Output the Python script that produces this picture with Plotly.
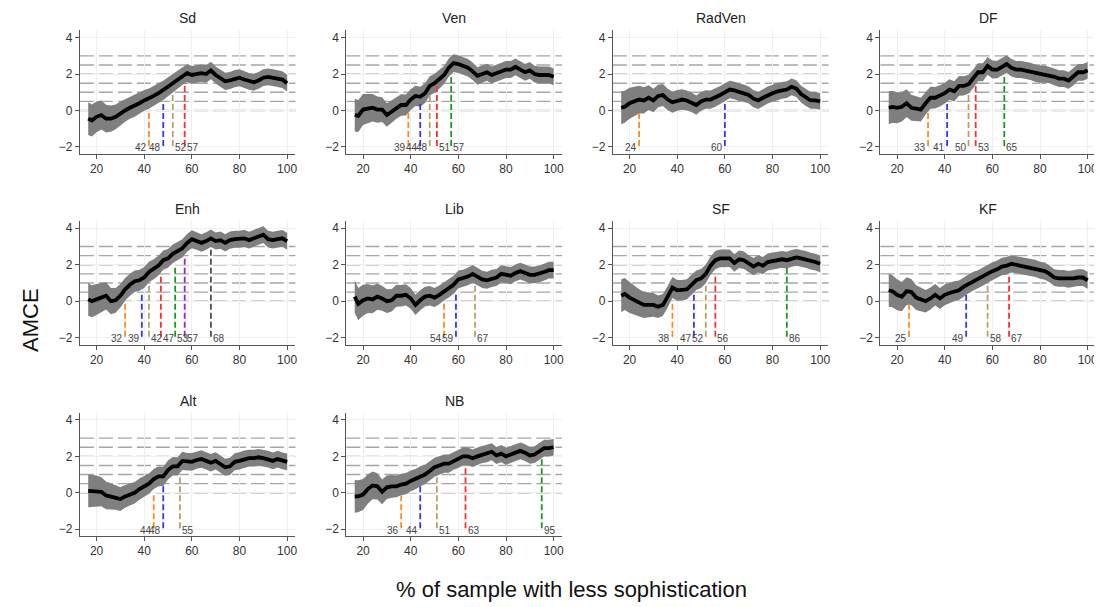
import plotly.graph_objects as go

# ---------------- data ----------------
x_grid = [16.5, 18, 20, 22, 24, 26, 28, 30, 32, 34, 36, 38, 40, 42, 44, 46, 48, 50, 52, 54,
          56, 58, 60, 62, 64, 66, 68, 70, 72, 74, 76, 78, 80, 82, 84, 86, 88, 90, 92, 94,
          96, 98, 100]
ci_halfwidth = [0.90, 0.88, 0.85, 0.80, 0.76, 0.72, 0.68, 0.65, 0.62, 0.60, 0.59, 0.58, 0.57, 0.56,
                0.55, 0.54, 0.53, 0.52, 0.51, 0.50, 0.50, 0.49, 0.49, 0.48, 0.48, 0.48, 0.48, 0.47,
                0.47, 0.47, 0.47, 0.47, 0.47, 0.47, 0.46, 0.46, 0.46, 0.46, 0.46, 0.46, 0.46, 0.46, 0.46]

panels = ["Sd", "Ven", "RadVen", "DF", "Enh", "Lib", "SF", "KF", "Alt", "NB"]

amce_Sd = [-0.45, -0.55, -0.35, -0.25, -0.45, -0.45, -0.35, -0.15, 0.0, 0.15, 0.25, 0.4, 0.55, 0.65,
           0.8, 0.95, 1.1, 1.3, 1.5, 1.7, 1.9, 2.05, 1.95, 2.0, 2.05, 2.0, 2.2, 1.95, 1.75, 1.6,
           1.65, 1.75, 1.8, 1.7, 1.6, 1.55, 1.65, 1.8, 1.85, 1.8, 1.75, 1.7, 1.5]
amce_Ven = [-0.25, -0.3, 0.05, 0.1, 0.15, 0.05, 0.05, -0.25, -0.05, 0.15, 0.3, 0.3, 0.6, 0.8,
            0.75, 0.95, 1.35, 1.5, 1.7, 1.95, 2.35, 2.6, 2.55, 2.45, 2.35, 2.15, 1.9, 2.0, 2.1, 1.95,
            2.05, 2.15, 2.25, 2.25, 2.4, 2.25, 2.1, 2.2, 2.0, 1.95, 1.95, 1.95, 1.85]
amce_RadVen = [0.15, 0.2, 0.4, 0.5, 0.6, 0.55, 0.7, 0.55, 0.8, 0.85, 0.6, 0.45, 0.55, 0.6,
               0.55, 0.45, 0.3, 0.5, 0.6, 0.6, 0.7, 0.85, 1.0, 1.15, 1.1, 1.0, 0.95, 0.85, 0.65, 0.55,
               0.7, 0.85, 0.95, 1.05, 1.1, 1.15, 1.3, 1.2, 0.9, 0.7, 0.55, 0.55, 0.5]
amce_DF = [0.15, 0.2, 0.15, 0.2, 0.4, 0.15, 0.1, 0.05, 0.4, 0.7, 0.7, 0.8, 0.95, 1.15,
           1.05, 1.35, 1.35, 1.45, 1.75, 2.1, 2.1, 2.45, 2.25, 2.25, 2.4, 2.55, 2.35, 2.25, 2.25, 2.2,
           2.15, 2.05, 2.0, 2.0, 1.95, 1.85, 1.75, 1.75, 1.65, 1.85, 2.1, 2.1, 2.2]
amce_Enh = [0.1, 0.0, 0.1, 0.2, 0.3, 0.0, 0.05, 0.3, 0.65, 0.9, 1.1, 1.15, 1.3, 1.6,
            1.75, 1.95, 2.25, 2.35, 2.6, 2.75, 2.9, 3.2, 3.4, 3.3, 3.2, 3.3, 3.45, 3.3, 3.35, 3.2,
            3.35, 3.4, 3.4, 3.45, 3.35, 3.45, 3.55, 3.65, 3.4, 3.35, 3.4, 3.45, 3.3]
amce_Lib = [0.25, -0.15, 0.05, 0.15, 0.1, 0.25, 0.15, 0.0, 0.05, 0.3, 0.3, 0.35, 0.15, -0.2,
            0.05, 0.25, 0.3, 0.2, 0.35, 0.55, 0.7, 0.9, 1.2, 1.25, 1.35, 1.5, 1.35, 1.2, 1.15, 1.25,
            1.3, 1.5, 1.45, 1.4, 1.55, 1.65, 1.55, 1.45, 1.45, 1.5, 1.6, 1.7, 1.7]
amce_SF = [0.3, 0.4, 0.2, 0.05, -0.1, -0.2, -0.2, -0.2, -0.3, -0.2, 0.25, 0.75, 0.6, 0.6,
           0.65, 0.9, 1.15, 1.25, 1.5, 1.95, 2.25, 2.35, 2.35, 2.35, 2.1, 2.3, 2.25, 2.05, 1.9, 2.05,
           1.95, 2.15, 2.2, 2.25, 2.3, 2.25, 2.35, 2.4, 2.35, 2.3, 2.2, 2.15, 2.05]
amce_KF = [0.6, 0.55, 0.35, 0.25, 0.55, 0.5, 0.2, 0.1, 0.0, 0.15, 0.35, 0.15, 0.35, 0.45,
           0.55, 0.6, 0.8, 0.95, 1.1, 1.2, 1.35, 1.5, 1.65, 1.75, 1.9, 1.95, 2.05, 2.0, 1.95, 1.9,
           1.85, 1.8, 1.7, 1.65, 1.5, 1.3, 1.25, 1.25, 1.2, 1.25, 1.3, 1.3, 1.15]
amce_Alt = [0.1, 0.1, 0.1, 0.05, -0.15, -0.2, -0.25, -0.35, -0.2, -0.1, 0.0, 0.2, 0.35, 0.5,
            0.75, 0.9, 0.9, 1.25, 1.45, 1.45, 1.75, 1.7, 1.7, 1.8, 1.85, 1.75, 1.65, 1.75, 1.55, 1.4,
            1.45, 1.7, 1.75, 1.85, 1.9, 1.9, 1.95, 1.9, 1.85, 1.75, 1.85, 1.75, 1.7]
amce_NB = [-0.2, -0.2, -0.1, 0.2, 0.4, 0.35, 0.05, 0.3, 0.35, 0.35, 0.45, 0.5, 0.65, 0.75,
           0.9, 1.0, 1.2, 1.4, 1.5, 1.6, 1.6, 1.75, 1.85, 2.0, 2.0, 1.9, 2.0, 2.1, 2.15, 2.25,
           2.05, 2.15, 2.0, 2.1, 2.2, 2.3, 2.2, 2.05, 2.1, 2.3, 2.45, 2.45, 2.5]

amce = {"Sd": amce_Sd, "Ven": amce_Ven, "RadVen": amce_RadVen, "DF": amce_DF, "Enh": amce_Enh,
        "Lib": amce_Lib, "SF": amce_SF, "KF": amce_KF, "Alt": amce_Alt, "NB": amce_NB}

threshold_levels = [0, 0.5, 1, 1.5, 2, 2.5, 3]
cross_Sd = [42, 48, 52, 57]
cross_Ven = [39, 44, 48, 51, 57]
cross_RadVen = [24, 60]
cross_DF = [33, 41, 50, 53, 65]
cross_Enh = [32, 39, 42, 47, 53, 57, 68]
cross_Lib = [54, 59, 67]
cross_SF = [38, 47, 52, 56, 86]
cross_KF = [25, 49, 58, 67]
cross_Alt = [44, 48, 55]
cross_NB = [36, 44, 51, 63, 95]
crossings = {"Sd": cross_Sd, "Ven": cross_Ven, "RadVen": cross_RadVen, "DF": cross_DF,
             "Enh": cross_Enh, "Lib": cross_Lib, "SF": cross_SF, "KF": cross_KF,
             "Alt": cross_Alt, "NB": cross_NB}

x_ticks = [20, 40, 60, 80, 100]
y_ticks = [-2, 0, 2, 4]

# ---------------- style ----------------
OFF = 8  # page body margin in the browser
W, H = 1102 - OFF, 607 - OFF
FONT = "Liberation Sans, Arial, sans-serif"
line_colors = ["#ff8c1a", "#3333ff", "#b3a36b", "#ff2e2e", "#1a9a1a", "#a020c0", "#505050"]
col_left_px = [80, 347, 614, 882]
panel_w_px = 216
row_top_px = [30.4, 221, 412.7]
row_bot_px = [153.8, 344.6, 536]
x_range = [13, 103.5]
y_range = [-2.38, 4.4]


def px_x(p):
    return (p - OFF) / W


def px_y(p):
    return (H - (p - OFF)) / H


fig = go.Figure()
shapes = []
annotations = []
layout_axes = {}

for i, name in enumerate(panels):
    r, c = divmod(i, 4)
    n = i + 1
    xa = "x" if n == 1 else f"x{n}"
    ya = "y" if n == 1 else f"y{n}"
    xkey = "xaxis" if n == 1 else f"xaxis{n}"
    ykey = "yaxis" if n == 1 else f"yaxis{n}"
    x0 = px_x(col_left_px[c])
    x1 = px_x(col_left_px[c] + panel_w_px)
    y0 = px_y(row_bot_px[r])
    y1 = px_y(row_top_px[r])

    common = dict(showline=True, linecolor="#555555", linewidth=1, ticks="outside",
                  ticklen=4, tickcolor="#555555", tickfont=dict(family=FONT, size=12, color="#333333"),
                  showgrid=True, gridcolor="#efefef", gridwidth=1, zeroline=False, mirror=False)
    layout_axes[xkey] = dict(domain=[x0, x1], range=x_range, anchor=ya, tickvals=x_ticks, **common)
    layout_axes[ykey] = dict(domain=[y0, y1], range=y_range, anchor=xa, tickvals=y_ticks, **common)

    # horizontal reference lines
    for lv in threshold_levels:
        shapes.append(dict(type="line", xref=f"{xa} domain", yref=ya, x0=0, x1=1, y0=lv, y1=lv,
                           line=dict(color="#a6a6a6", width=1.4, dash="14px,5px"), layer="below"))

    vals = amce[name]
    lo = [v - h for v, h in zip(vals, ci_halfwidth)]
    hi = [v + h for v, h in zip(vals, ci_halfwidth)]
    fig.add_trace(go.Scatter(x=x_grid, y=lo, mode="lines", line=dict(width=0, color="#7f7f7f"),
                             xaxis=xa, yaxis=ya, showlegend=False, hoverinfo="skip"))
    fig.add_trace(go.Scatter(x=x_grid, y=hi, mode="lines", line=dict(width=0, color="#7f7f7f"),
                             fill="tonexty", fillcolor="#7f7f7f", xaxis=xa, yaxis=ya,
                             showlegend=False, hoverinfo="skip"))
    fig.add_trace(go.Scatter(x=x_grid, y=vals, mode="lines", line=dict(width=3.8, color="black"),
                             xaxis=xa, yaxis=ya, showlegend=False))

    # threshold crossing markers
    xs = crossings[name]
    for k, xc in enumerate(xs):
        col = line_colors[k]
        fig.add_trace(go.Scatter(x=[xc, xc], y=[-1.95, threshold_levels[k]], mode="lines",
                                 line=dict(color=col, width=1.8, dash="6px,3px"),
                                 xaxis=xa, yaxis=ya, showlegend=False, hoverinfo="skip"))
        if k < 2:
            left = True
        elif k == 2:
            left = (k + 1 < len(xs)) and (xs[k + 1] - xc < 5)
        else:
            left = False
        annotations.append(dict(x=xc, y=-2.05, xref=xa, yref=ya, text=str(xc), showarrow=False,
                                xanchor="right" if left else "left", xshift=0,
                                font=dict(family=FONT, size=10, color="#444444")))

    # panel title
    annotations.append(dict(x=(x0 + x1) / 2, y=y1, xref="paper", yref="paper", text=name,
                            showarrow=False, xanchor="center", yanchor="bottom", yshift=2,
                            font=dict(family=FONT, size=14, color="#222222")))

annotations.append(dict(x=px_x(30), y=px_y(320), xref="paper", yref="paper", text="AMCE",
                        showarrow=False, textangle=-90, xanchor="center", yanchor="middle",
                        font=dict(family=FONT, size=22, color="#111111")))
annotations.append(dict(x=px_x(573), y=px_y(589), xref="paper", yref="paper",
                        text="% of sample with less sophistication", showarrow=False,
                        xanchor="center", yanchor="middle",
                        font=dict(family=FONT, size=22, color="#111111")))

fig.update_layout(width=W, height=H, margin=dict(l=0, r=0, t=0, b=0),
                  paper_bgcolor="white", plot_bgcolor="white",
                  shapes=shapes, annotations=annotations, **layout_axes)

fig.write_html("out.html")
